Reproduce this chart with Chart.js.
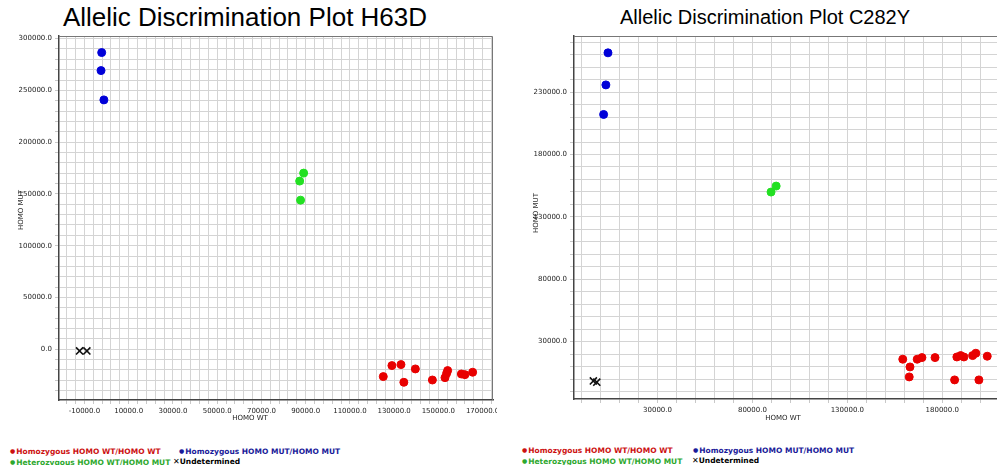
<!DOCTYPE html>
<html>
<head>
<meta charset="utf-8">
<script src="https://cdn.jsdelivr.net/npm/chart.js@4/dist/chart.umd.min.js"></script>
<style>
  body { margin: 0; width: 997px; height: 465px; background: #fff; position: relative; overflow: hidden; font-family: "DejaVu Sans", sans-serif; }
  .panel { position: absolute; top: 0; height: 430px; overflow: hidden; }
  .title { position: absolute; font-family: "Liberation Sans", Arial, sans-serif; color: #000; white-space: nowrap; transform: translateX(-50%); }
  .xtitle { position: absolute; top: 414px; font-size: 7px; color: #222; white-space: nowrap; transform: translateX(-50%); }
  .ytitle { position: absolute; font-size: 7px; color: #222; white-space: nowrap; transform: translate(-50%, -50%) rotate(-90deg); }
  .lg { position: absolute; font-size: 7.5px; font-weight: bold; white-space: nowrap; line-height: 10px; }
  .red { color: #cc1111; }
  .blue { color: #1a1a99; }
  .green { color: #2ea82e; }
  .black { color: #000; }
  .dot { font-size: 6px; vertical-align: 1px; margin-right: 1px; }
  .xm { font-weight: normal; font-size: 8px; }
</style>
</head>
<body>
<div class="title" style="left:245px; top:2px; font-size:26px;">Allelic Discrimination Plot H63D</div>
<div class="title" style="left:765px; top:6px; font-size:20px;">Allelic Discrimination Plot C282Y</div>

<div class="panel" style="left:0; width:497px;"><canvas id="h63d" width="520" height="430"></canvas></div>
<div class="panel" style="left:510px; width:487px;"><canvas id="c282y" width="500" height="430"></canvas></div>

<div class="xtitle" style="left:250px;">HOMO WT</div>
<div class="xtitle" style="left:783px;">HOMO WT</div>
<div class="ytitle" style="left:21px; top:210px;">HOMO MUT</div>
<div class="ytitle" style="left:536px; top:213px;">HOMO MUT</div>

<div class="lg red" style="left:10px; top:446px;"><span class="dot">●</span>Homozygous HOMO WT/HOMO WT</div>
<div class="lg blue" style="left:179px; top:446px;"><span class="dot">●</span>Homozygous HOMO MUT/HOMO MUT</div>
<div class="lg green" style="left:10px; top:457px;"><span class="dot">●</span>Heterozygous HOMO WT/HOMO MUT</div>
<div class="lg black" style="left:173px; top:457px;"><span class="xm">✕</span>Undetermined</div>

<div class="lg red" style="left:522px; top:445px;"><span class="dot">●</span>Homozygous HOMO WT/HOMO WT</div>
<div class="lg blue" style="left:693px; top:445px;"><span class="dot">●</span>Homozygous HOMO MUT/HOMO MUT</div>
<div class="lg green" style="left:522px; top:456px;"><span class="dot">●</span>Heterozygous HOMO WT/HOMO MUT</div>
<div class="lg black" style="left:692px; top:456px;"><span class="xm">✕</span>Undetermined</div>

<script>
// H63D values [HOMO WT, HOMO MUT]
const h63dHomoWt = [
  [125100, -26400], [129000, -15800], [133100, -14800], [134400, -31900],
  [139600, -19000], [147300, -29700], [153000, -27400], [153700, -23500],
  [154200, -20600], [160400, -23900], [162000, -24500], [165500, -22200]
];
const h63dHomoMut = [[-2200, 286500], [-2500, 269100], [-1200, 240800]];
const h63dHetero = [[89100, 170100], [87300, 162400], [87700, 144000]];
const h63dUndet = [[-12200, -1600], [-8900, -1600]];

// C282Y values [HOMO WT, HOMO MUT]
const c282yHomoWt = [
  [159200, 15900], [163000, 9700], [162600, 1700], [166800, 15900],
  [169300, 17200], [176200, 17200], [186500, -700], [187700, 17700],
  [189700, 18800], [191400, 17700], [196000, 18800], [197700, 20700],
  [199300, -700], [203700, 18300]
];
const c282yHomoMut = [[3900, 261500], [2800, 235800], [1600, 212100]];
const c282yHetero = [[89800, 149900], [92500, 154700]];
const c282yUndet = [[-3800, -1500], [-2000, -2500]];

// tick labels
const h63dXLabels = [-10000, 10000, 30000, 50000, 70000, 90000, 110000, 130000, 150000, 170000];
const h63dYLabels = [0, 50000, 100000, 150000, 200000, 250000, 300000];
const c282yXLabels = [30000, 80000, 130000, 180000];
const c282yYLabels = [30000, 80000, 130000, 180000, 230000];

const colors = { wt: '#e80000', mut: '#0000d8', het: '#22e022', und: '#111111' };

function gridTicks(min, max, step, origin) {
  const out = [];
  let k = Math.ceil((min - origin) / step);
  while (origin + k * step <= max) {
    out.push({ value: origin + k * step });
    k++;
  }
  return out;
}

const frame = {
  id: 'frame',
  afterDraw(chart) {
    const { ctx, chartArea: a } = chart;
    ctx.save();
    ctx.strokeStyle = '#777';
    ctx.lineWidth = 1;
    ctx.beginPath();
    ctx.moveTo(a.left, a.top + 0.5);
    ctx.lineTo(a.right - 0.5, a.top + 0.5);
    ctx.lineTo(a.right - 0.5, a.bottom);
    ctx.stroke();
    ctx.restore();
  }
};

const toPts = arr => arr.map(p => ({ x: p[0], y: p[1] }));

function makeChart(id, d) {
  const tickFont = { family: 'DejaVu Sans', size: 7 };
  const axis = (min, max, step, origin, labels, fitFn, pos) => ({
    type: 'linear',
    position: pos,
    min: min,
    max: max,
    afterBuildTicks: s => { s.ticks = gridTicks(min, max, step, origin); },
    afterFit: fitFn,
    grid: { color: '#d4d4d4', lineWidth: 1, tickLength: 4, tickColor: '#c8c8c8' },
    border: { color: '#444', width: 1.5 },
    ticks: {
      font: tickFont,
      color: '#222',
      padding: 3,
      autoSkip: false,
      maxRotation: 0,
      minRotation: 0,
      callback: v => labels.includes(v) ? v.toFixed(1) : ''
    }
  });

  return new Chart(document.getElementById(id), {
    type: 'scatter',
    data: {
      datasets: [
        { data: toPts(d.wt), backgroundColor: colors.wt, borderColor: colors.wt, pointRadius: 4 },
        { data: toPts(d.mut), backgroundColor: colors.mut, borderColor: colors.mut, pointRadius: 4 },
        { data: toPts(d.het), backgroundColor: colors.het, borderColor: colors.het, pointRadius: 4 },
        { data: toPts(d.und), pointStyle: 'crossRot', borderColor: colors.und, borderWidth: 1.6, pointRadius: 5 }
      ]
    },
    options: {
      responsive: false,
      animation: false,
      devicePixelRatio: 1,
      layout: { padding: { top: 36, right: d.padRight, left: 0, bottom: 0 } },
      scales: {
        x: axis(d.xMin, d.xMax, d.xStep, d.xOrigin, d.xLabels, s => { s.height = d.xHeight; }, 'bottom'),
        y: axis(d.yMin, d.yMax, 10000, d.yOrigin, d.yLabels, s => { s.width = d.yWidth; }, 'left')
      },
      plugins: { legend: { display: false }, tooltip: { enabled: false } }
    },
    plugins: [frame]
  });
}

makeChart('h63d', {
  wt: h63dHomoWt, mut: h63dHomoMut, het: h63dHetero, und: h63dUndet,
  xMin: -21500, xMax: 174700, xStep: 4000, xOrigin: -10000, xLabels: h63dXLabels,
  yMin: -49000, yMax: 302500, yOrigin: 0, yLabels: h63dYLabels,
  yWidth: 59, xHeight: 30, padRight: 27
});

makeChart('c282y', {
  wt: c282yHomoWt, mut: c282yHomoMut, het: c282yHetero, und: c282yUndet,
  xMin: -14000, xMax: 212000, xStep: 10000, xOrigin: 30000, xLabels: c282yXLabels,
  yMin: -16000, yMax: 275000, yOrigin: 30000, yLabels: c282yYLabels,
  yWidth: 64, xHeight: 31, padRight: 7
});
</script>
</body>
</html>
